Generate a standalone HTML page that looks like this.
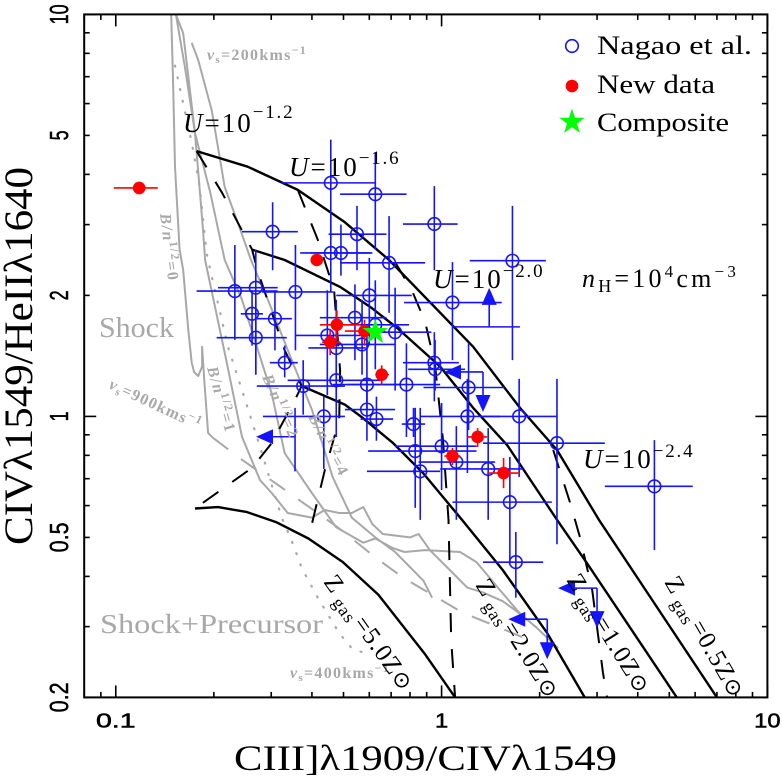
<!DOCTYPE html>
<html lang="en">
<head>
<meta charset="utf-8">
<title>CIII/CIV vs CIV/HeII diagnostic diagram</title>
<style>
html,body{margin:0;padding:0;background:#fff;}
svg{display:block;font-family:"Liberation Serif",serif;}
.t{fill:#000;}
.g{fill:#a8a8a8;}
.tick{font-family:"Liberation Sans",sans-serif;fill:#000;stroke:#000;stroke-width:.5;}
</style>
</head>
<body>
<svg id="chart" xmlns="http://www.w3.org/2000/svg" width="782" height="780" viewBox="0 0 782 780">
<defs><clipPath id="plot-clip"><rect x="84" y="14" width="684" height="684"/></clipPath></defs>
<rect x="0" y="0" width="782" height="780" fill="#fff"/>
<g id="marks" clip-path="url(#plot-clip)"></g>
<g id="axes"></g>

<text class="t" x="234" y="770" font-size="36" textLength="383" lengthAdjust="spacingAndGlyphs">CIII]λ1909/CIVλ1549</text>
<text class="t" transform="translate(32,545) rotate(-90)" font-size="40" textLength="378" lengthAdjust="spacingAndGlyphs">CIVλ1549/HeIIλ1640</text>

<text class="t" x="597" y="54" font-size="26" textLength="155" lengthAdjust="spacingAndGlyphs">Nagao et al.</text>
<text class="t" x="597" y="93" font-size="26" textLength="118" lengthAdjust="spacingAndGlyphs">New data</text>
<text class="t" x="597" y="131" font-size="26" textLength="132" lengthAdjust="spacingAndGlyphs">Composite</text>

<text class="t" x="183" y="132" font-size="27" letter-spacing="2"><tspan font-style="italic">U</tspan>=10<tspan font-size="19" dy="-14" letter-spacing="1.8">−1.2</tspan></text>
<text class="t" x="289" y="176" font-size="27" letter-spacing="2"><tspan font-style="italic">U</tspan>=10<tspan font-size="19" dy="-12" letter-spacing="1.8">−1.6</tspan></text>
<text class="t" x="433" y="288" font-size="27" letter-spacing="2"><tspan font-style="italic">U</tspan>=10<tspan font-size="19" dy="-11" letter-spacing="1.8">−2.0</tspan></text>
<text class="t" x="583" y="468" font-size="27" letter-spacing="2"><tspan font-style="italic">U</tspan>=10<tspan font-size="19" dy="-11" letter-spacing="1.8">−2.4</tspan></text>
<text class="t" x="582" y="287" font-size="26" letter-spacing="3.2"><tspan font-style="italic">n</tspan><tspan font-size="18" dy="5">H</tspan><tspan dy="-5">=10</tspan><tspan font-size="17" dy="-10">4</tspan><tspan dy="10">cm</tspan><tspan font-size="17" dy="-10">−3</tspan></text>

<text class="g" x="99" y="337" font-size="28" textLength="75" lengthAdjust="spacingAndGlyphs">Shock</text>
<text class="g" x="100" y="633" font-size="27" textLength="223" lengthAdjust="spacingAndGlyphs">Shock+Precursor</text>

<text class="g" x="207" y="60" font-size="16" font-weight="bold" letter-spacing="1.3"><tspan font-style="italic">v</tspan><tspan font-size="11" dy="3">s</tspan><tspan dy="-3">=200kms</tspan><tspan font-size="12" dy="-6">−1</tspan></text>
<text class="g" x="290" y="678" font-size="16" font-weight="bold" letter-spacing="1.3"><tspan font-style="italic">v</tspan><tspan font-size="11" dy="3">s</tspan><tspan dy="-3">=400kms</tspan><tspan font-size="12" dy="-6">−1</tspan></text>
<text class="g" transform="translate(108,388) rotate(25)" font-size="16" font-weight="bold" letter-spacing="1.3"><tspan font-style="italic">v</tspan><tspan font-size="11" dy="3">s</tspan><tspan dy="-3">=900kms</tspan><tspan font-size="12" dy="-6">−1</tspan></text>

<text class="g" transform="translate(160,214) rotate(83)" font-size="16" font-weight="bold" letter-spacing="1.5"><tspan font-style="italic">B/n</tspan><tspan font-size="12" dy="-6">1/2</tspan><tspan dy="6">=0</tspan></text>
<text class="g" transform="translate(207,368) rotate(74)" font-size="16" font-weight="bold" letter-spacing="1.5"><tspan font-style="italic">B/n</tspan><tspan font-size="12" dy="-6">1/2</tspan><tspan dy="6">=1</tspan></text>
<text class="g" transform="translate(262,377) rotate(66)" font-size="16" font-weight="bold" letter-spacing="1.5"><tspan font-style="italic">B/n</tspan><tspan font-size="12" dy="-6">1/2</tspan><tspan dy="6">=2</tspan></text>
<text class="g" transform="translate(308,417) rotate(62)" font-size="16" font-weight="bold" letter-spacing="1.5"><tspan font-style="italic">B/n</tspan><tspan font-size="12" dy="-6">1/2</tspan><tspan dy="6">=4</tspan></text>

<text class="t" transform="translate(323,582) rotate(54.5)" font-size="25" letter-spacing="1"><tspan>Z</tspan><tspan font-size="18" dy="5"> gas</tspan><tspan dy="-5" dx="2">=5.0Z</tspan><tspan font-family="DejaVu Sans" font-size="22">⊙</tspan></text>
<text class="t" transform="translate(475,585) rotate(58)" font-size="25" letter-spacing="1"><tspan>Z</tspan><tspan font-size="18" dy="5"> gas</tspan><tspan dy="-5" dx="2">=2.0Z</tspan><tspan font-family="DejaVu Sans" font-size="22">⊙</tspan></text>
<text class="t" transform="translate(566,580) rotate(58)" font-size="25" letter-spacing="1"><tspan>Z</tspan><tspan font-size="18" dy="5"> gas</tspan><tspan dy="-5" dx="2">=1.0Z</tspan><tspan font-family="DejaVu Sans" font-size="22">⊙</tspan></text>
<text class="t" transform="translate(664,582) rotate(60)" font-size="25" letter-spacing="1"><tspan>Z</tspan><tspan font-size="18" dy="5"> gas</tspan><tspan dy="-5" dx="2">=0.5Z</tspan><tspan font-family="DejaVu Sans" font-size="22">⊙</tspan></text>

<g id="legend"></g>
</svg>

<script>
// ---------- Tick labels ----------
const xTickValues = [0.1, 1, 10];
const xTickLabels = ['0.1', '1', '10'];
const yTickValues = [0.2, 0.5, 1, 2, 5, 10];
const yTickLabels = ['0.2', '0.5', '1', '2', '5', '10'];

// ---------- Nagao et al. points (values and error-bar bounds) ----------
const nagaoX =   [.457,.626,.303,.55,.95,1.65,.457,.491,.69,.6,1.08,.542,.72,.57,.626,.95,.955,1.21,.78,.59,.59,.631,.82,1.2,1.73,2.26,1.0,.83,1.11,1.39,.86,1.62,1.69,4.5,.232,.269,.356,.262,.308,.269,.446,.475,.33,.376,.475,.435];
const nagaoY =   [3.81,3.57,2.88,2.84,3.01,2.44,2.55,2.55,2.41,2.0,1.92,1.76,1.62,1.51,1.69,1.36,1.31,1.18,1.2,1.2,1.04,.985,.957,1.0,1.0,.858,.843,.82,.77,.74,.73,.612,.434,.67,2.05,2.09,2.04,1.8,1.75,1.57,1.59,1.48,1.36,1.19,1.23,1.0];
const nagaoXLo = [.323,.488,.244,.45,.761,1.22,.368,.396,.488,.475,.767,.423,.585,.423,.505,.761,.79,.88,.513,.464,.505,.564,.755,.86,1.34,1.34,.72,.595,.85,.99,.59,1.08,1.34,3.17,.177,.206,.281,.242,.267,.204,.355,.39,.297,.271,.337,.283];
const nagaoXHi = [.626,.781,.362,.677,1.12,2.09,.604,.613,.89,.81,1.53,.677,.93,.72,.795,1.13,1.18,1.56,.99,.75,.72,.71,.89,1.51,2.26,3.17,1.28,1.28,1.46,1.78,.99,2.18,2.05,5.9,.314,.314,.464,.283,.347,.335,.585,.585,.362,.505,.65,.505];
const nagaoYLo = [2.75,2.6,2.31,2.31,2.31,1.38,2.04,2.24,1.81,1.5,1.38,1.38,1.16,1.27,1.31,1.09,1.16,.925,.889,1.04,.87,.87,.889,.723,.707,.481,.656,.592,.553,.553,.553,.434,.354,.465,1.55,1.27,1.46,1.5,1.46,1.27,1.13,1.1,1.25,1.01,.889,.74];
const nagaoYHi = [4.88,4.54,3.41,3.34,3.74,3.34,3.17,3.0,3.15,2.48,2.42,2.13,2.09,1.95,2.18,1.62,1.55,1.52,1.52,1.62,1.24,1.12,1.05,1.24,1.24,1.24,1.08,1.05,.946,.935,1.05,.793,.516,.873,2.67,2.6,2.67,2.06,2.06,1.95,2.06,1.95,1.5,1.38,1.5,1.12];

// ---------- Limit points ----------
const bothLimitX = [1.34, 2.11, 3.0];
const bothLimitY = [1.29, 0.313, 0.374];
const lowerLimitX = [1.4];
const lowerLimitY = [1.67];
const lowerLimitXLo = [1.08];
const lowerLimitXHi = [1.74];
const leftLimitX = [.355];
const leftLimitY = [.89];
const leftLimitYLo = [.73];
const leftLimitYHi = [1.05];

// ---------- New data ----------
const newX =   [.118,.414,.477,.455,.58,.655,1.08,1.29,1.55];
const newY =   [3.7,2.45,1.69,1.53,1.63,1.27,.797,.889,.723];
const newXLo = [.0986,.414,.423,.43,.505,.626,1.02,1.2,1.38];
const newXHi = [.1346,.414,.564,.488,.672,.69,1.14,1.38,1.74];
const newYLo = [3.7,2.45,1.55,1.42,1.5,1.2,.757,.839,.663];
const newYHi = [3.7,2.45,1.84,1.64,1.74,1.34,.835,.935,.788];

// ---------- Composite ----------
const compositeX = [.626];
const compositeY = [1.62];

// ---------- Photoionization model grid ----------
const z05X = [.177,.254,.362,.505,.69,1.25,1.74,2.26,3.04,7.0];
const z05Y = [4.57,4.18,3.66,3.04,2.45,1.49,1.05,.825,.553,.2];
const z10X = [.262,.33,.488,.605,.73,.99,1.25,1.59,2.26,2.79,5.27];
const z10Y = [2.6,2.45,2.1,1.87,1.66,1.33,1.05,.848,.553,.432,.2];
const z20X = [.372,.505,.57,.71,.877,1.155,1.54,2.11,2.75];
const z20Y = [1.19,1.07,.995,.858,.723,.553,.415,.289,.2];
const z50X = [.175,.206,.253,.312,.39,.498,.64,.89,1.1];
const z50Y = [.59,.595,.578,.545,.497,.434,.36,.256,.2];

const u12X = [.177,.212,.262,.272,.33,.372,.355,.301,.262,.175];
const u12Y = [4.57,3.6,2.6,2.31,1.46,1.19,1.1,.858,.745,.59];
const u16X = [.362,.417,.468,.488,.485,.438,.39];
const u16Y = [3.66,2.75,2.06,1.3,.98,.735,.497];
const u20X = [.72,.81,.89,.955,1.01,1.05,1.07,1.1];
const u20Y = [2.42,2.06,1.72,1.34,.873,.553,.277,.2];
const u24X = [2.2,2.48,2.66,2.9,3.13,3.22];
const u24Y = [.825,.61,.5,.37,.23,.2];

// ---------- Shock models (grey) ----------
const shock0X = [.148,.15,.152,.157,.161,.167,.171,.174,.179,.184,.184,.187,.192,.199];
const shock0Y = [10,6.75,4.18,2.6,2.31,1.64,1.36,1.29,1.26,1.33,1.49,1.23,.91,.884];
const shock1X = [.153,.163,.175,.185,.188,.216,.244,.277,.301,.337,.4,.438,.485,.53,.575,.613,.66,.8,.85,.92,1.06,1.2,1.34,1.54,1.74,1.96,2.28];
const shock1Y = [10,7.4,5.07,2.96,2.45,1.44,.89,.695,.645,.575,.56,.585,.575,.575,.595,.54,.51,.5,.51,.465,.415,.375,.365,.347,.323,.298,.265];
const shock2X = [.153,.161,.175,.195,.216,.244,.301,.33,.4,.475,.575,.626,.71,.77,.89,1.14,1.28,1.51,1.74];
const shock2Y = [10,8.97,5.07,3.6,2.45,1.95,1.14,.81,.645,.53,.485,.497,.47,.46,.465,.46,.434,.37,.323];
const shock4X = [.171,.179,.197,.216,.237,.26,.293,.347,.4,.463,.53,.626,.72,.88,.935];
const shock4Y = [8.5,7.7,5.78,3.72,3.03,2.45,1.95,1.38,1.04,.707,.56,.5,.46,.39,.354];
const shockDotX = [.152,.171,.181,.19,.195,.221,.254,.281,.323,.347,.372,.417,.485,.53,.6];
const shockDotY = [7.46,4.8,3.72,2.55,2.31,1.49,1.05,.81,.56,.49,.42,.354,.289,.265,.255];
const shockDashX = [.199,.244,.323,.48,.64,.77,1.16,1.48,1.87];
const shockDashY = [.884,.78,.665,.53,.44,.395,.325,.3,.277];

// ---------- Axis functions ----------
const xDomain = [0.08, 10], xRange = [84.2, 767.4];
const yDomain = [0.2, 10], yRange = [697.4, 14.4];
function sx(v) {
  const t = (Math.log10(v) - Math.log10(xDomain[0])) / (Math.log10(xDomain[1]) - Math.log10(xDomain[0]));
  return xRange[0] + t * (xRange[1] - xRange[0]);
}
function sy(v) {
  const t = (Math.log10(v) - Math.log10(yDomain[0])) / (Math.log10(yDomain[1]) - Math.log10(yDomain[0]));
  return yRange[0] + t * (yRange[1] - yRange[0]);
}

const NS = 'http://www.w3.org/2000/svg';
const marks = document.getElementById('marks');
const axes = document.getElementById('axes');
const legend = document.getElementById('legend');
function mk(tag, parent, name, attrs) {
  const el = document.createElementNS(NS, tag);
  
  
  for (const k in attrs) el.setAttribute(k, attrs[k]);
  parent.appendChild(el);
  return el;
}
function polyline(xs, ys, name, stroke, width, dash, cap) {
  const pts = xs.map((x, i) => sx(x).toFixed(1) + ',' + sy(ys[i]).toFixed(1)).join(' ');
  const a = {points: pts, fill: 'none', stroke: stroke, 'stroke-width': width, 'stroke-linejoin': 'round'};
  if (dash) a['stroke-dasharray'] = dash;
  if (cap) a['stroke-linecap'] = cap;
  return mk('polyline', marks, name, a);
}
function seg(parent, name, x1, y1, x2, y2, stroke, width) {
  return mk('line', parent, name, {x1: x1, y1: y1, x2: x2, y2: y2, stroke: stroke, 'stroke-width': width});
}
function tri(parent, name, cx, cy, dir, color) {
  // cx,cy is the arrow tip
  const L = 17, H = 7.5;
  let p;
  if (dir === 'left') p = [[cx, cy], [cx + L, cy - H], [cx + L, cy + H]];
  if (dir === 'down') p = [[cx, cy], [cx - H, cy - L], [cx + H, cy - L]];
  if (dir === 'up') p = [[cx, cy], [cx - H, cy + L], [cx + H, cy + L]];
  return mk('polygon', parent, name, {points: p.map(q => q.join(',')).join(' '), fill: color});
}
function starPoints(cx, cy, R) {
  const r = R * 0.382, out = [];
  for (let i = 0; i < 10; i++) {
    const a = -Math.PI / 2 + i * Math.PI / 5, rr = i % 2 ? r : R;
    out.push((cx + rr * Math.cos(a)).toFixed(1) + ',' + (cy + rr * Math.sin(a)).toFixed(1));
  }
  return out.join(' ');
}

const BLUE = '#1414ff', RED = '#ff0000', GREY = '#a8a8a8', GREEN = '#00ff00';

// Grey shock models
polyline(shock0X, shock0Y, 'shock-curve-b0', GREY, 2);
polyline(shock1X, shock1Y, 'shock-curve-b1', GREY, 2);
polyline(shock2X, shock2Y, 'shock-curve-b2', GREY, 2);
polyline(shock4X, shock4Y, 'shock-curve-b4', GREY, 2);
polyline(shockDotX, shockDotY, 'shock-precursor-dotted', GREY, 2.2, '1 11', 'round');
polyline(shockDashX, shockDashY, 'shock-900-dashed', GREY, 2, '19 16');

// Photoionization models
polyline(u12X, u12Y, 'u-curve-1.2', '#000', 2, '19 17');
polyline(u16X, u16Y, 'u-curve-1.6', '#000', 2, '19 17');
polyline(u20X, u20Y, 'u-curve-2.0', '#000', 2, '19 17');
polyline(u24X, u24Y, 'u-curve-2.4', '#000', 2, '19 17');
polyline(z05X, z05Y, 'z-curve-0.5', '#000', 2.4);
polyline(z10X, z10Y, 'z-curve-1.0', '#000', 2.4);
polyline(z20X, z20Y, 'z-curve-2.0', '#000', 2.4);
polyline(z50X, z50Y, 'z-curve-5.0', '#000', 2.4);

// Nagao points
nagaoX.forEach((x, i) => {
  const g = mk('g', marks, 'nagao-point', {});
  const px = sx(x), py = sy(nagaoY[i]);
  seg(g, 'nagao-x-error', sx(nagaoXLo[i]), py, sx(nagaoXHi[i]), py, BLUE, 1.6);
  seg(g, 'nagao-y-error', px, sy(nagaoYLo[i]), px, sy(nagaoYHi[i]), BLUE, 1.6);
  mk('circle', g, 'nagao-marker', {cx: px, cy: py, r: 6.3, fill: 'none', stroke: BLUE, 'stroke-width': 1.6});
});

// Upper limits on both axes
bothLimitX.forEach((x, i) => {
  const g = mk('g', marks, 'nagao-both-limit', {});
  const px = sx(x), py = sy(bothLimitY[i]);
  seg(g, 'limit-left-stem', px - 25, py, px, py, BLUE, 1.6);
  seg(g, 'limit-down-stem', px, py, px, py + 25, BLUE, 1.6);
  tri(g, 'limit-left-arrow', px - 39, py, 'left', BLUE);
  tri(g, 'limit-down-arrow', px, py + 40, 'down', BLUE);
});
lowerLimitX.forEach((x, i) => {
  const g = mk('g', marks, 'nagao-lower-limit', {});
  const px = sx(x), py = sy(lowerLimitY[i]);
  seg(g, 'limit-x-error', sx(lowerLimitXLo[i]), py, sx(lowerLimitXHi[i]), py, BLUE, 1.6);
  seg(g, 'limit-up-stem', px, py, px, py - 25, BLUE, 1.6);
  tri(g, 'limit-up-arrow', px, py - 39, 'up', BLUE);
});
leftLimitX.forEach((x, i) => {
  const g = mk('g', marks, 'nagao-left-limit', {});
  const px = sx(x), py = sy(leftLimitY[i]);
  seg(g, 'limit-y-error', px, sy(leftLimitYLo[i]), px, sy(leftLimitYHi[i]), BLUE, 1.6);
  seg(g, 'limit-left-stem', px, py, px - 25, py, BLUE, 1.6);
  tri(g, 'limit-left-arrow', px - 39, py, 'left', BLUE);
});

// New data
newX.forEach((x, i) => {
  const g = mk('g', marks, 'new-data-point', {});
  const px = sx(x), py = sy(newY[i]);
  seg(g, 'new-data-x-error', sx(newXLo[i]), py, sx(newXHi[i]), py, RED, 1.6);
  seg(g, 'new-data-y-error', px, sy(newYLo[i]), px, sy(newYHi[i]), RED, 1.6);
  mk('circle', g, 'new-data-marker', {cx: px, cy: py, r: 6.3, fill: RED});
});

// Composite star
compositeX.forEach((x, i) => {
  mk('polygon', marks, 'composite-star', {points: starPoints(sx(x), sy(compositeY[i]), 13.5), fill: GREEN});
});

// Legend markers
mk('circle', legend, 'legend-marker-nagao', {cx: 572, cy: 46, r: 6.3, fill: 'none', stroke: BLUE, 'stroke-width': 1.6});
mk('circle', legend, 'legend-marker-new-data', {cx: 572, cy: 86, r: 6.3, fill: RED});
mk('polygon', legend, 'legend-marker-composite', {points: starPoints(572, 122, 13.5), fill: GREEN});

// Frame
mk('rect', axes, 'plot-frame', {x: xRange[0], y: yRange[1], width: xRange[1] - xRange[0], height: yRange[0] - yRange[1], fill: 'none', stroke: '#000', 'stroke-width': 2});

// Ticks
for (let d = -2; d <= 1; d++) {
  for (let m = 1; m <= 9; m++) {
    const v = m * Math.pow(10, d);
    const len = m === 1 ? 12 : 5.5;
    if (v >= xDomain[0] && v <= xDomain[1] * 1.0001) {
      const px = sx(v);
      seg(axes, 'x-tick-bottom', px, yRange[0], px, yRange[0] - len, '#000', 1.6);
      seg(axes, 'x-tick-top', px, yRange[1], px, yRange[1] + len, '#000', 1.6);
    }
    if (v >= yDomain[0] * 0.9999 && v <= yDomain[1] * 1.0001) {
      const py = sy(v);
      seg(axes, 'y-tick-left', xRange[0], py, xRange[0] + len, py, '#000', 1.6);
      seg(axes, 'y-tick-right', xRange[1], py, xRange[1] - len, py, '#000', 1.6);
    }
  }
}

// Tick labels
xTickValues.forEach((v, i) => {
  const el = mk('text', axes, 'x-tick-label', {x: sx(v), y: 727.5, 'font-size': 20, 'text-anchor': 'middle', class: 'tick', textLength: xTickLabels[i].length * 13.2, lengthAdjust: 'spacingAndGlyphs'});
  el.textContent = xTickLabels[i];
});
yTickValues.forEach((v, i) => {
  const el = mk('text', axes, 'y-tick-label', {transform: 'translate(68,' + sy(v) + ') rotate(-90)', 'font-size': 26, 'text-anchor': 'middle', class: 'tick', textLength: yTickLabels[i].length * 10, lengthAdjust: 'spacingAndGlyphs'});
  el.textContent = yTickLabels[i];
});
</script>
</body>
</html>
